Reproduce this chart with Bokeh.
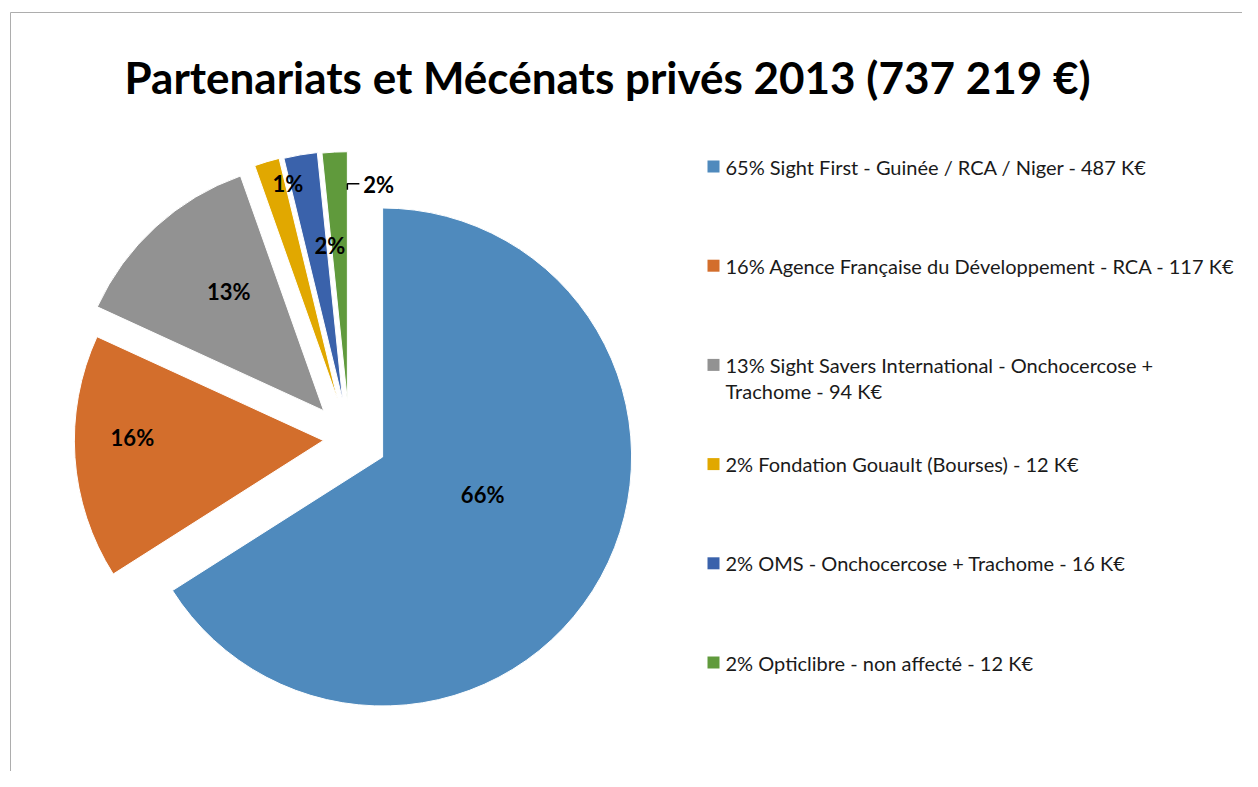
import math
from bokeh.plotting import figure
from bokeh.models import Range1d, ColumnDataSource
from bokeh.core.properties import value
from bokeh.embed import file_html
from bokeh.resources import INLINE

# ---------------- data ----------------
title = "Partenariats et Mécénats privés 2013 (737 219 €)"
amounts_k = [487, 117, 94, 12, 16, 12]
pie_labels = ["66%", "16%", "13%", "1%", "2%", "2%"]
legend_lines = [
    ["65% Sight First - Guinée / RCA / Niger - 487 K€"],
    ["16% Agence Française du Développement - RCA - 117 K€"],
    ["13% Sight Savers International - Onchocercose +", "Trachome - 94 K€"],
    ["2% Fondation Gouault (Bourses) - 12 K€"],
    ["2% OMS - Onchocercose + Trachome - 16 K€"],
    ["2% Opticlibre - non affecté - 12 K€"],
]
colors = ["#4F8ABD", "#D36E2C", "#929292", "#E1A800", "#3A62AB", "#609A3C"]

# ---------------- style / layout ----------------
W, H = 1242, 771
PAGE_H = 787
FONT = "Lato"
def Y(sy):  # screen y -> data y
    return PAGE_H - sy

cx, cy = 348.8, Y(438.2)
R = 249
explode = [38, 26, 38, 40, 39, 38]
lab_shift = [-8, 4.8, 3.8, 3.6, 5, 0]
lab_dist = [107, 191, 152, 223, 155, None]

total = float(sum(amounts_k))
starts, ends, ax, ay, mids = [], [], [], [], []
cum = 0.0
for i, v in enumerate(amounts_k):
    t1 = cum / total * 360.0
    cum += v
    t2 = cum / total * 360.0
    tm = (t1 + t2) / 2
    mids.append(tm)
    starts.append(math.radians(90 - t2))
    ends.append(math.radians(90 - t1))
    ax.append(cx + explode[i] * math.sin(math.radians(tm)))
    ay.append(cy + explode[i] * math.cos(math.radians(tm)))

p = figure(width=W, height=H, output_backend="svg", toolbar_location=None,
           x_range=Range1d(0, W), y_range=Range1d(PAGE_H - H, PAGE_H),
           x_axis_type=None, y_axis_type=None, min_border=0)
p.outline_line_color = None
p.grid.visible = False
p.background_fill_color = "white"
p.border_fill_color = "white"

# chart frame
p.line([10, 10, 1300], [Y(800), Y(12), Y(12)], line_color="#ADADAD", line_width=1)

src = ColumnDataSource(dict(x=ax, y=ay, s=starts, e=ends, c=colors))
p.wedge(x="x", y="y", radius=R, start_angle="s", end_angle="e",
        direction="anticlock", fill_color="c", line_color="white",
        line_width=1, source=src)

# slice labels
lx, ly, lt = [], [], []
for i in range(len(amounts_k)):
    if lab_dist[i] is None:
        continue
    a = math.radians(mids[i] + lab_shift[i])
    lx.append(ax[i] + lab_dist[i] * math.sin(a))
    ly.append(ay[i] + lab_dist[i] * math.cos(a))
    lt.append(pie_labels[i])
p.text(lx, ly, text=lt, text_font=value(FONT), text_font_style="bold",
       text_font_size="22px", text_color="black", text_align="center",
       text_baseline="middle")

# outside label with leader for last slice
k = len(amounts_k) - 1
ex = ax[k]
ey = ay[k] + 211
p.line([ex, ex, ex + 12], [ey, ey + 6, ey + 6], line_color="black", line_width=1.5)
p.text([ex + 16], [ey + 5], text=[pie_labels[k]], text_font=value(FONT),
       text_font_style="bold", text_font_size="22px", text_color="black",
       text_align="left", text_baseline="alphabetic")

# title
p.text([607], [Y(76)], text=[title], text_font=value(FONT), text_font_style="bold",
       text_font_size="44px", text_color="black", text_align="center",
       text_baseline="alphabetic")

# legend
sq_x, sq_y, tx, ty, tt = [], [], [], [], []
for i, lines in enumerate(legend_lines):
    yc = 166 + i * 99.2
    sq_x.append(713)
    sq_y.append(Y(yc))
    for j, line in enumerate(lines):
        tx.append(725)
        ty.append(Y(yc + j * 26))
        tt.append(line)
p.rect(sq_x, sq_y, width=12, height=12, fill_color=colors, line_color=None)
p.text(tx, ty, text=tt, text_font=value(FONT), text_font_size="20px",
       text_color="#1a1a1a", text_align="left", text_baseline="middle")

open("out.html", "w").write(file_html(p, INLINE))
